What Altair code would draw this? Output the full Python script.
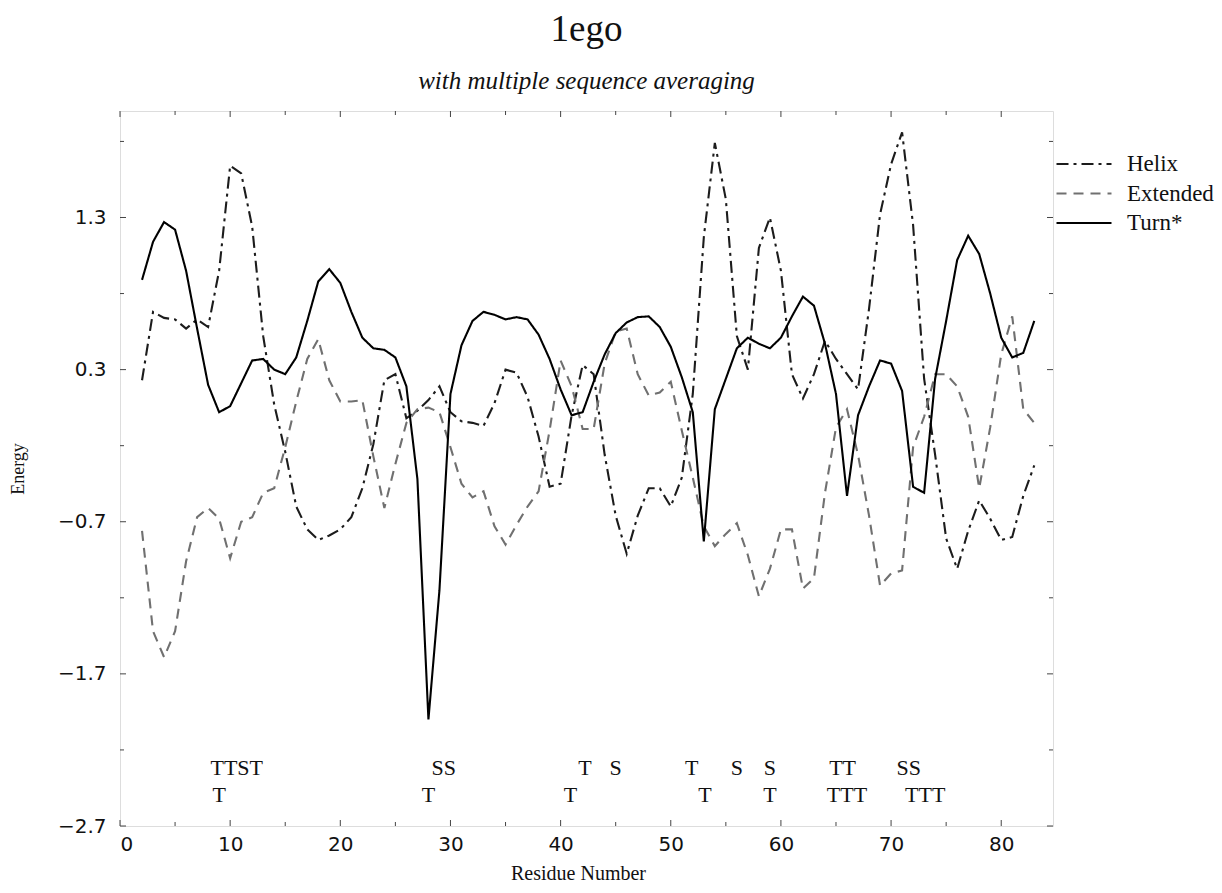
import altair as alt
import pandas as pd

# ---------------- data ----------------
residues = list(range(2, 84))

helix = [0.23, 0.68, 0.64, 0.63, 0.57, 0.63, 0.58, 0.95, 1.64, 1.59,
         1.24, 0.52, 0.07, -0.24, -0.60, -0.75, -0.82, -0.79, -0.75, -0.67,
         -0.48, -0.19, 0.23, 0.27, -0.02, 0.03, 0.10, 0.19, 0.02, -0.04,
         -0.05, -0.07, 0.08, 0.30, 0.28, 0.12, -0.14, -0.47, -0.45, 0.00,
         0.33, 0.27, -0.26, -0.66, -0.91, -0.66, -0.48, -0.48, -0.60, -0.41,
         0.14, 1.17, 1.79, 1.42, 0.52, 0.30, 1.10, 1.30, 0.95, 0.27,
         0.11, 0.27, 0.49, 0.37, 0.27, 0.17, 0.70, 1.32, 1.65, 1.86,
         1.25, 0.24, -0.26, -0.81, -1.01, -0.76, -0.56, -0.68, -0.82, -0.80,
         -0.53, -0.33]

extended = [-0.76, -1.42, -1.59, -1.42, -0.96, -0.67, -0.61, -0.68, -0.94, -0.70,
            -0.67, -0.51, -0.48, -0.21, 0.09, 0.37, 0.50, 0.23, 0.09, 0.09,
            0.10, -0.27, -0.61, -0.32, -0.05, 0.04, 0.05, 0.02, -0.21, -0.45,
            -0.54, -0.50, -0.73, -0.85, -0.72, -0.60, -0.50, -0.10, 0.36, 0.19,
            -0.09, -0.09, 0.34, 0.55, 0.57, 0.27, 0.13, 0.15, 0.22, -0.10,
            -0.41, -0.73, -0.86, -0.78, -0.71, -0.92, -1.19, -1.01, -0.75, -0.75,
            -1.14, -1.07, -0.51, -0.08, 0.04, -0.26, -0.66, -1.12, -1.04, -1.02,
            -0.21, -0.01, 0.27, 0.27, 0.19, -0.01, -0.48, -0.08, 0.40, 0.65,
            0.04, -0.05]

turn = [0.89, 1.14, 1.27, 1.22, 0.95, 0.57, 0.20, 0.02, 0.06, 0.21,
        0.36, 0.37, 0.30, 0.27, 0.38, 0.62, 0.88, 0.96, 0.87, 0.68,
        0.51, 0.44, 0.43, 0.38, 0.19, -0.42, -2.00, -1.15, 0.14, 0.46,
        0.62, 0.68, 0.66, 0.63, 0.645, 0.63, 0.53, 0.37, 0.17, 0.00,
        0.02, 0.22, 0.40, 0.54, 0.61, 0.645, 0.65, 0.58, 0.45, 0.25,
        0.02, -0.83, 0.04, 0.24, 0.44, 0.51, 0.47, 0.44, 0.51, 0.65,
        0.78, 0.72, 0.47, 0.14, -0.53, 0.00, 0.19, 0.36, 0.34, 0.16,
        -0.47, -0.51, 0.24, 0.62, 1.02, 1.18, 1.06, 0.80, 0.51, 0.38,
        0.41, 0.62]

series_names = ["Helix", "Extended", "Turn*"]

x_major = [0, 10, 20, 30, 40, 50, 60, 70, 80]
x_minor = [5, 15, 25, 35, 45, 55, 65, 75]
y_major = [1.3, 0.3, -0.7, -1.7, -2.7]
y_minor = [1.8, 0.8, -0.2, -1.2, -2.2]

row1_text = ["TTST", "SS", "T", "S", "T", "S", "S", "TT", "SS"]
row1_x = [10.6, 29.4, 42.2, 45.0, 51.9, 56.0, 59.0, 65.6, 71.6]
row2_text = ["T", "T", "T", "T", "T", "TTT", "TTT"]
row2_x = [9.0, 28.0, 40.9, 53.1, 59.0, 66.0, 73.1]

# ---------------- styling ----------------
W, H = 933, 715
SERIF = "Liberation Serif"
SANS = "DejaVu Sans"
series_colors = ["#1c1c1c", "#707070", "#000000"]
series_dash = [[12, 5, 3, 5], [10, 7], [1, 0]]

xdom = [0, 84.7]
ydom = [-2.7, 2.0]

rows = []
for name, vals in zip(series_names, [helix, extended, turn]):
    for r, v in zip(residues, vals):
        rows.append({"residue": r, "energy": v, "series": name})
df = pd.DataFrame(rows)

xs = alt.Scale(domain=xdom, nice=False, zero=False)
ys = alt.Scale(domain=ydom, nice=False, zero=False)

legend_kw = dict(title=None, orient="none", legendX=949, legendY=38,
                 symbolType="M-2,0L2,0", symbolSize=756, symbolStrokeWidth=2.1,
                 labelFont=SERIF, labelFontSize=23, labelColor="#111",
                 rowPadding=2.5, padding=0, labelOffset=28)

lines = alt.Chart(df).mark_line(strokeWidth=2.1, strokeJoin="miter").encode(
    x=alt.X("residue:Q", scale=xs,
            axis=alt.Axis(values=x_major, title="Residue Number", grid=False,
                          domain=False, ticks=False, labelPadding=8,
                          labelFont=SANS, labelFontSize=20, labelColor="#111",
                          titleFont=SERIF, titleFontSize=20, titleFontWeight="normal",
                          titleColor="#111", titleX=458, titleY=47,
                          titleBaseline="middle", titleAlign="center")),
    y=alt.Y("energy:Q", scale=ys,
            axis=alt.Axis(values=y_major, format=".1f", title="Energy", grid=False,
                          domain=False, ticks=False, labelPadding=14,
                          labelFont=SANS, labelFontSize=20, labelColor="#111",
                          titleFont=SERIF, titleFontSize=18, titleFontWeight="normal",
                          titleColor="#111", titleX=-102, titleY=H / 2,
                          titleAngle=270, titleBaseline="middle", titleAlign="center")),
    color=alt.Color("series:N", scale=alt.Scale(domain=series_names, range=series_colors),
                    legend=alt.Legend(**legend_kw)),
    strokeDash=alt.StrokeDash("series:N",
                              scale=alt.Scale(domain=series_names, range=series_dash),
                              legend=alt.Legend(**legend_kw)),
    detail="series:N",
)

tick_color = "#444"
xmaj = pd.DataFrame({"v": x_major})
xmin = pd.DataFrame({"v": x_minor})
ymaj = pd.DataFrame({"v": y_major})
ymin = pd.DataFrame({"v": y_minor})

def xticks(d, length):
    b = alt.Chart(d).mark_rule(color=tick_color, strokeWidth=1).encode(
        x=alt.X("v:Q", scale=xs), y=alt.value(H), y2=alt.value(H - length))
    t = alt.Chart(d).mark_rule(color=tick_color, strokeWidth=1).encode(
        x=alt.X("v:Q", scale=xs), y=alt.value(0), y2=alt.value(length))
    return b + t

def yticks(d, length):
    l = alt.Chart(d).mark_rule(color=tick_color, strokeWidth=1).encode(
        y=alt.Y("v:Q", scale=ys), x=alt.value(0), x2=alt.value(length))
    r = alt.Chart(d).mark_rule(color=tick_color, strokeWidth=1).encode(
        y=alt.Y("v:Q", scale=ys), x=alt.value(W), x2=alt.value(W - length))
    return l + r

ann1 = pd.DataFrame({"x": row1_x, "t": row1_text})
ann2 = pd.DataFrame({"x": row2_x, "t": row2_text})
t1 = alt.Chart(ann1).mark_text(font=SERIF, fontSize=22, color="#111", baseline="middle").encode(
    x=alt.X("x:Q", scale=xs), y=alt.value(657), text="t:N")
t2 = alt.Chart(ann2).mark_text(font=SERIF, fontSize=22, color="#111", baseline="middle").encode(
    x=alt.X("x:Q", scale=xs), y=alt.value(684), text="t:N")

chart = alt.layer(
    xticks(xmaj, 6), xticks(xmin, 4), yticks(ymaj, 6), yticks(ymin, 4),
    lines, t1, t2,
).properties(
    width=W, height=H,
    title=alt.TitleParams("1ego", subtitle="with multiple sequence averaging",
                          font=SERIF, fontSize=37, fontWeight="normal", color="#111",
                          subtitleFont=SERIF, subtitleFontSize=25, subtitleFontStyle="italic",
                          subtitleColor="#111", anchor="middle", offset=16,
                          subtitlePadding=20),
    autosize=alt.AutoSizeParams(type="none"),
    padding={"left": 112, "top": 103, "right": 161, "bottom": 59},
).configure_view(stroke="#444", strokeWidth=1.2).configure(background="white")

chart.save("out.html", embed_options={"renderer": "svg", "actions": False})
